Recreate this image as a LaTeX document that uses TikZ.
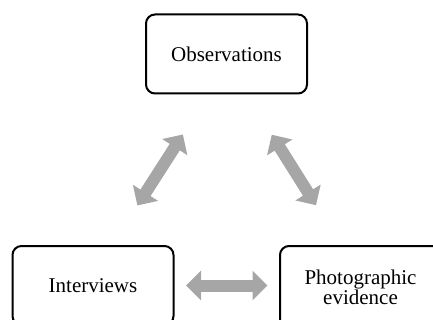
\documentclass[tikz,border=0pt]{standalone}
\usepackage{fontspec}
\setmainfont{Liberation Serif}
\usetikzlibrary{arrows.meta}
\definecolor{linkgray}{RGB}{166,166,166}
\tikzset{
  stagebox/.style={draw=black, line width=2pt, rounded corners=9pt,
    minimum width=161pt, minimum height=79pt, inner sep=2pt,
    align=center, font=\fontsize{21}{20}\selectfont},
  link/.style={draw=linkgray, line width=12pt,
    {Triangle[length=15pt,width=29pt]}-{Triangle[length=15pt,width=29pt]}}
}
\begin{document}
\begin{tikzpicture}[x=1pt, y=-1pt]
  \useasboundingbox (0,0) rectangle (433,320);
  % three stages of data collection
  \node[stagebox] (obs) at (226.5,54) {Observations};
  \node[stagebox] (int) at (93,285.5) {Interviews};
  \node[stagebox, minimum height=83pt] (pho) at (360.5,287.5) {Photographic\\evidence};
  % two-way links between the stages
  \draw[link, shorten <=47.5pt, shorten >=47pt]
    ([xshift=-18pt]obs.south) -- ([xshift=19pt]int.north);
  \draw[link, shorten <=47.5pt, shorten >=47pt]
    ([xshift=20pt]obs.south) -- ([xshift=-19.5pt]pho.north);
  \draw[link, shorten <=11.5pt, shorten >=11.5pt]
    (int.east) -- (int.east -| pho.west);
\end{tikzpicture}
\end{document}
